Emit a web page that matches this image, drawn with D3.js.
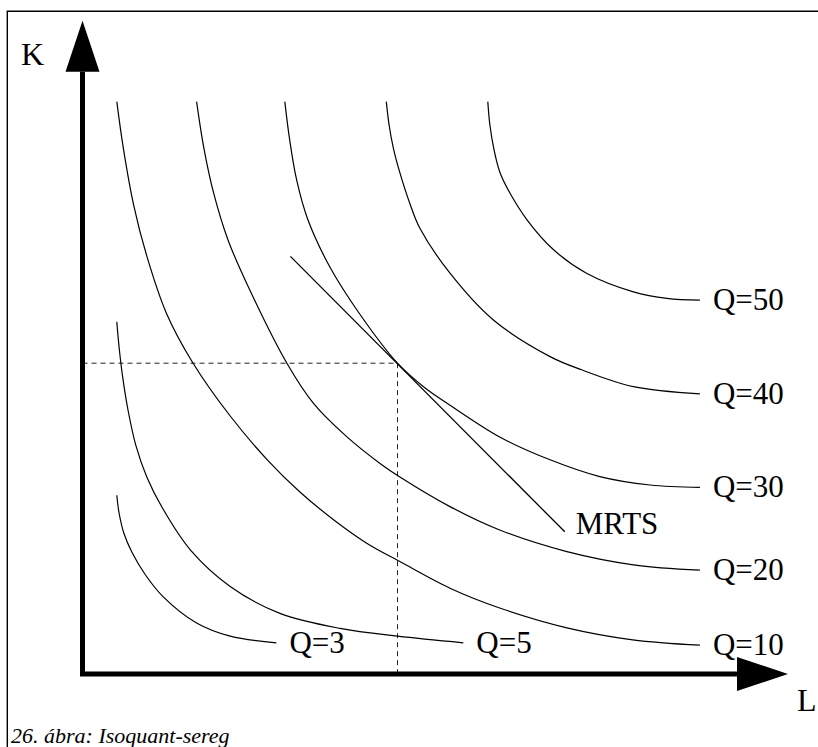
<!DOCTYPE html>
<html>
<head>
<meta charset="utf-8">
<script src="https://cdn.jsdelivr.net/npm/d3@7"></script>
<style>
  html, body { margin: 0; padding: 0; background: #fff; }
  svg { display: block; }
  text { font-family: "Liberation Serif", "Times New Roman", serif; fill: #000; }
</style>
</head>
<body>
<svg id="chart" width="818" height="747"></svg>
<script>
// ---- data (L = labour, K = capital, arbitrary units 0..100) ----
const isoLabels = ["Q=3", "Q=5", "Q=10", "Q=20", "Q=30", "Q=40", "Q=50"];
const isoQ3  = [[4.9,29.8],[5.2,27.0],[5.9,23.5],[7.1,20.2],[9.0,16.5],[11.5,12.9],[16.3,8.5],[21.1,6.3],[27.7,5.2]];
const isoQ5  = [[4.9,58.7],[5.2,54.8],[5.7,49.8],[6.5,44.0],[7.6,38.2],[9.2,32.8],[11.4,27.7],[15.4,20.7],[21.1,14.6],[28.2,10.1],[36.8,7.6],[45.0,6.3],[54.4,5.2]];
const isoQ10 = [[4.9,95.4],[5.8,87.9],[7.3,78.2],[9.2,69.6],[12.0,60.1],[15.8,51.8],[21.1,43.0],[26.4,35.7],[31.1,30.3],[36.1,25.5],[40.6,21.8],[45.4,18.7],[52.5,14.3],[59.6,11.0],[69.2,7.7],[78.6,5.7],[88.2,4.8]];
const isoQ20 = [[16.3,95.4],[17.3,87.9],[18.7,80.3],[20.8,72.3],[23.9,64.0],[29.2,51.8],[33.0,45.1],[37.7,39.6],[42.5,35.1],[45.4,32.8],[52.5,27.9],[59.6,24.0],[69.2,20.4],[78.7,18.2],[88.2,17.3]];
const isoQ30 = [[28.9,95.4],[29.6,89.0],[30.6,82.3],[32.2,75.7],[35.4,67.7],[39.6,60.0],[45.0,51.8],[48.9,47.7],[52.5,44.8],[59.6,39.5],[66.8,35.7],[73.9,32.9],[81.1,31.5],[88.2,31.1]];
const isoQ40 = [[43.4,95.4],[43.8,91.5],[44.4,87.7],[45.4,83.3],[46.8,78.3],[48.2,74.3],[52.5,66.8],[58.7,59.0],[66.8,52.9],[71.3,50.7],[78.7,47.9],[88.2,46.7]];
const isoQ50 = [[57.9,95.4],[58.2,91.5],[58.8,87.3],[59.6,83.7],[60.8,80.7],[63.5,75.7],[67.3,70.7],[72.0,66.8],[78.7,63.7],[83.5,62.6],[88.2,62.3]];
const isoquants = [isoQ3, isoQ5, isoQ10, isoQ20, isoQ30, isoQ40, isoQ50];

const mrtsLine  = [[29.7,69.6],[68.9,23.7]];
const mrtsLabel = "MRTS";
const tangentPoint = [45.0, 51.8];

const axisLabelX = "L";
const axisLabelY = "K";
const caption = "26. ábra: Isoquant-sereg";

// ---- layout ----
const svg = d3.select("#chart");
const x = d3.scaleLinear().domain([0, 100]).range([82.5, 782.5]);
const y = d3.scaleLinear().domain([0, 100]).range([674, 74]);

const x0 = x(0), y0 = y(0);
const xTip = 788, yTip = 20.7;
const headLen = 51, headHalf = 17;

// frame (top and left edges visible)
svg.append("path")
  .attr("d", `M7.3,747 V11.2 H818`)
  .attr("fill", "none").attr("stroke", "#000").attr("stroke-width", 1.4);

// dashed guide lines to tangent point
svg.append("path")
  .attr("d", `M${x0},${y(tangentPoint[1])} H${x(tangentPoint[0])} V${y0}`)
  .attr("fill", "none").attr("stroke", "#222").attr("stroke-width", 1)
  .attr("stroke-dasharray", "5,4");

// isoquant curves
const line = d3.line()
  .x(d => x(d[0])).y(d => y(d[1]))
  .curve(d3.curveCatmullRom.alpha(0.5));

svg.append("g").selectAll("path")
  .data(isoquants)
  .join("path")
  .attr("d", line)
  .attr("fill", "none").attr("stroke", "#000").attr("stroke-width", 1.2);

// MRTS tangent line
svg.append("path")
  .attr("d", d3.line().x(d => x(d[0])).y(d => y(d[1]))(mrtsLine))
  .attr("fill", "none").attr("stroke", "#000").attr("stroke-width", 1.3);

// axes
svg.append("path")
  .attr("d", `M${x0},${yTip + headLen} V${y0} H${xTip - headLen}`)
  .attr("fill", "none").attr("stroke", "#000").attr("stroke-width", 5)
  .attr("stroke-linejoin", "miter");
svg.append("path")
  .attr("d", `M${x0},${yTip} L${x0 - headHalf},${yTip + headLen} L${x0 + headHalf},${yTip + headLen} Z`)
  .attr("fill", "#000");
svg.append("path")
  .attr("d", `M${xTip},${y0} L${xTip - headLen},${y0 - headHalf} L${xTip - headLen},${y0 + headHalf} Z`)
  .attr("fill", "#000");

// curve labels
svg.append("g").selectAll("text")
  .data(isoquants.map((c, i) => ({ p: c[c.length - 1], t: isoLabels[i] })))
  .join("text")
  .attr("x", d => x(d.p[0]) + 13)
  .attr("y", d => y(d.p[1]) + 10)
  .attr("font-size", 31)
  .text(d => d.t);

svg.append("text")
  .attr("x", x(mrtsLine[1][0]) + 11)
  .attr("y", y(mrtsLine[1][1]) + 2)
  .attr("font-size", 31)
  .text(mrtsLabel);

// axis labels
svg.append("text").attr("x", 21).attr("y", 65).attr("font-size", 32).text(axisLabelY);
svg.append("text").attr("x", 797).attr("y", 711).attr("font-size", 32).text(axisLabelX);

// caption
svg.append("text").attr("x", 11).attr("y", 743)
  .attr("font-size", 22).attr("font-style", "italic").text(caption);
</script>
</body>
</html>
